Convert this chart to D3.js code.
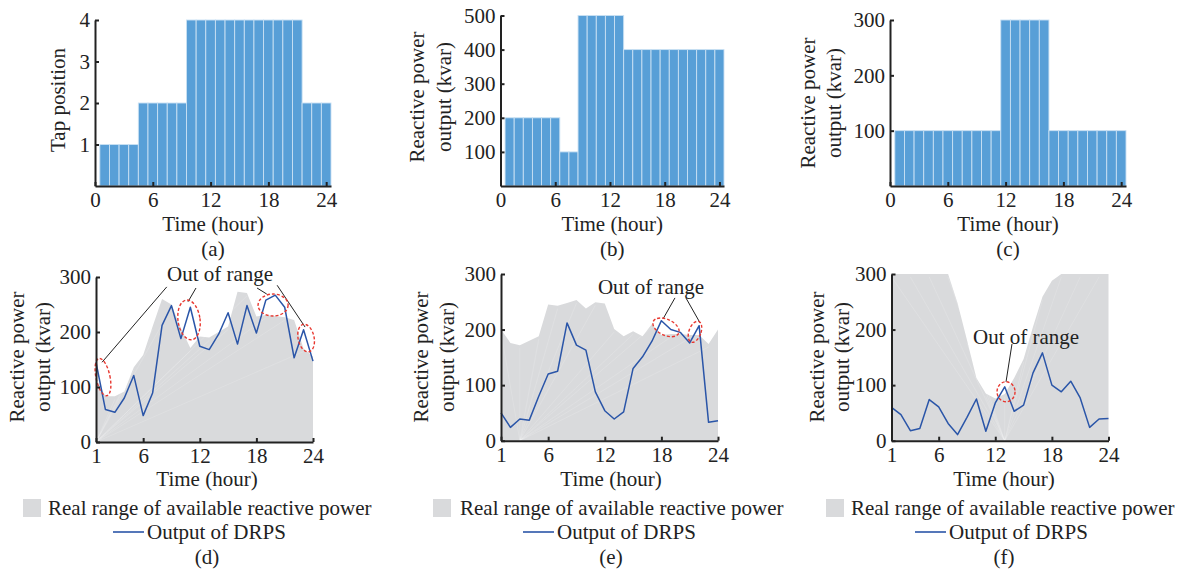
<!DOCTYPE html>
<html>
<head>
<meta charset="utf-8">
<script src="https://cdn.jsdelivr.net/npm/d3@7"></script>
<style>
  html, body { margin: 0; padding: 0; background: #fff; }
  svg { display: block; }
  text { font-family: "Liberation Serif", "Times New Roman", serif; fill: #222; }
</style>
</head>
<body>
<svg id="chart" width="1190" height="569"></svg>
<script>
// ---------------- DATA ----------------
const hours = [1,2,3,4,5,6,7,8,9,10,11,12,13,14,15,16,17,18,19,20,21,22,23,24];
const tapPosition = [1,1,1,1,2,2,2,2,2,4,4,4,4,4,4,4,4,4,4,4,4,2,2,2];
const reactiveB = [200,200,200,200,200,200,100,100,500,500,500,500,500,400,400,400,400,400,400,400,400,400,400,400];
const reactiveC = [100,100,100,100,100,100,100,100,100,100,100,300,300,300,300,300,100,100,100,100,100,100,100,100];
const rangeD  = [115,83,83,92,136,158,210,260,250,207,171,192,190,200,210,273,271,228,231,229,227,222,170,155];
const outputD = [145,59,54,80,121,48,89,212,248,188,245,174,168,196,235,178,248,198,258,267,245,153,204,147];
const rangeE  = [200,176,172,180,188,245,243,248,253,238,249,247,201,188,197,188,210,190,192,192,190,190,174,200];
const outputE = [50,24,39,37,80,120,125,212,172,163,88,54,39,52,130,151,179,216,200,195,176,207,33,36];
const rangeF  = [300,300,300,300,300,300,300,248,181,113,85,76,84,113,147,205,259,288,300,300,300,300,300,300];
const outputF = [60,47,18,22,74,61,31,11,42,75,17,68,97,53,64,122,158,100,88,107,77,24,39,40];
const topXTicks = [0,6,12,18,24];
const botXTicks = [1,6,12,18,24];
const ticksA = [1,2,3,4];
const ticksB = [100,200,300,400,500];
const ticksC = [100,200,300];
const ticksBottom = [0,100,200,300];
const legendRange = "Real range of available reactive power";
const legendLine = "Output of DRPS";
const outLabel = "Out of range";

// ---------------- DRAWING ----------------
const svg = d3.select("#chart");
const FS = 21;
const BAR = "#589fd7", GRAY = "#d9dadc", BLUE = "#2a55a8", RED = "#e8362e", INK = "#222";
const fmt = d3.format("d");

function styleAxis(g) {
  g.select(".domain").attr("stroke", INK).attr("stroke-width", 2);
  g.selectAll(".tick line").attr("stroke", INK).attr("stroke-width", 2);
  g.selectAll(".tick text").style("font-size", FS + "px").attr("fill", INK)
    .style("font-family", '"Liberation Serif","Times New Roman",serif');
}

function axes(x, y, xt, yt) {
  const gx = svg.append("g").attr("transform", `translate(0,${y.range()[0]})`)
    .call(d3.axisBottom(x).tickValues(xt).tickFormat(fmt).tickSizeInner(-4).tickSizeOuter(0).tickPadding(6));
  styleAxis(gx);
  const gy = svg.append("g").attr("transform", `translate(${x.range()[0]},0)`)
    .call(d3.axisLeft(y).tickValues(yt).tickFormat(fmt).tickSizeInner(-4).tickSizeOuter(0).tickPadding(5));
  styleAxis(gy);
}

function yLabel(lines, cx, cy) {
  lines.forEach((t, i) => {
    svg.append("text").attr("transform", `translate(${cx[i]},${cy}) rotate(-90)`)
      .attr("text-anchor", "middle").attr("dominant-baseline", "central")
      .style("font-size", FS + "px").text(t);
  });
}
function ctext(t, x, y) {
  svg.append("text").attr("x", x).attr("y", y).attr("text-anchor", "middle")
    .attr("dominant-baseline", "central").style("font-size", FS + "px").text(t);
}

function barPanel(vals, yMax, yt, xr, yr, label, ylines, ylx, yly) {
  const x = d3.scaleLinear().domain([0, 24.5]).range(xr);
  const y = d3.scaleLinear().domain([0, yMax]).range(yr);
  svg.append("g").selectAll("rect").data(hours).join("rect")
    .attr("x", h => x(h - 0.5)).attr("width", h => x(h + 0.5) - x(h - 0.5))
    .attr("y", (h, i) => y(vals[i])).attr("height", (h, i) => y(0) - y(vals[i]))
    .attr("fill", BAR).attr("stroke", "#c9e0f3").attr("stroke-width", 0.9);
  axes(x, y, topXTicks, yt);
  const cx = (xr[0] + xr[1]) / 2;
  ctext("Time (hour)", cx, 224);
  ctext(label, cx, 249);
  yLabel(ylines, ylx, yly);
}

barPanel(tapPosition, 4, ticksA, [95, 331], [186, 20], "(a)", ["Tap position"], [58], 100);
barPanel(reactiveB, 500, ticksB, [500.5, 724], [186, 15.5], "(b)", ["Reactive power", "output (kvar)"], [417, 444], 97);
barPanel(reactiveC, 300, ticksC, [890, 1126], [186, 20], "(c)", ["Reactive power", "output (kvar)"], [808, 834], 103);

function linePanel(range, out, xr, yr, o) {
  const x = d3.scaleLinear().domain([1, 24]).range(xr);
  const y = d3.scaleLinear().domain([0, 300]).range(yr);
  const area = d3.area().x((h) => x(h)).y0(y(0)).y1((h, i) => y(Math.min(300, range[i])));
  svg.append("path").datum(hours).attr("d", area).attr("fill", GRAY);
  // faint rendering streaks like the original fill
  const g = svg.append("g").attr("stroke", "#fff").attr("stroke-opacity", 0.3).attr("stroke-width", 0.5);
  hours.forEach((h, i) => {
    if (i % 2 === 0) g.append("line").attr("x1", x(o.fan)).attr("y1", y(0))
      .attr("x2", x(h)).attr("y2", y(Math.min(300, range[i])) + 3);
  });
  const line = d3.line().x(h => x(h)).y((h, i) => y(out[i]));
  svg.append("path").datum(hours).attr("d", line).attr("fill", "none")
    .attr("stroke", BLUE).attr("stroke-width", 1.5).attr("stroke-linejoin", "round");
  // annotations
  o.lines.forEach(l => svg.append("line").attr("x1", x(l[0])).attr("y1", y(l[1]))
    .attr("x2", x(l[2])).attr("y2", y(l[3])).attr("stroke", INK).attr("stroke-width", 1));
  o.ell.forEach(e => svg.append("ellipse")
    .attr("transform", `translate(${x(e[0])},${y(e[1])}) rotate(${e[4]})`)
    .attr("rx", e[2]).attr("ry", e[3]).attr("fill", "none").attr("stroke", RED)
    .attr("stroke-width", 1.4).attr("stroke-dasharray", "3,2"));
  svg.append("text").attr("x", x(o.txt[0])).attr("y", y(o.txt[1]))
    .attr("text-anchor", "middle").attr("dominant-baseline", "central")
    .style("font-size", FS + "px").text(outLabel);
  axes(x, y, botXTicks, ticksBottom);
  yLabel(["Reactive power", "output (kvar)"], o.ylx, 357);
  ctext("Time (hour)", o.tx, 479);
  // legend
  svg.append("rect").attr("x", o.lg[0]).attr("y", 499).attr("width", 18).attr("height", 18).attr("fill", GRAY);
  svg.append("text").attr("x", o.lg[1]).attr("y", 508).attr("dominant-baseline", "central")
    .style("font-size", FS + "px").text(legendRange);
  svg.append("line").attr("x1", o.lg[2]).attr("x2", o.lg[2] + 31).attr("y1", 532).attr("y2", 532)
    .attr("stroke", BLUE).attr("stroke-width", 1.6);
  svg.append("text").attr("x", o.lg[2] + 34).attr("y", 532).attr("dominant-baseline", "central")
    .style("font-size", FS + "px").text(legendLine);
  ctext(o.label, o.tx, 556.5);
}

linePanel(rangeD, outputD, [96, 313], [442, 277], {
  fan: 1,
  txt: [14.15, 305],
  lines: [[8.5, 282, 1.64, 145], [11.6, 280, 10.75, 255], [18.07, 280, 19.1, 269], [20.2, 285, 23.16, 209]],
  ell: [[1.74, 118, 7, 19, -12], [10.86, 222, 11, 20, -8], [19.77, 249, 15, 11, 0], [23.27, 189, 8, 14, -12]],
  ylx: [17, 43], tx: 207, label: "(d)", lg: [23, 48, 113]
});
linePanel(rangeE, outputE, [501, 718], [440.7, 274], {
  fan: 3,
  txt: [16.9, 277],
  lines: [[19.44, 257, 18.17, 219], [20.6, 257, 22.1, 212]],
  ell: [[18.49, 204, 14, 8, 25], [21.56, 196, 6, 11, 20]],
  ylx: [421, 447], tx: 611, label: "(e)", lg: [433, 460, 523]
});
linePanel(rangeF, outputF, [891.5, 1108.5], [440.7, 274], {
  fan: 13,
  txt: [15.26, 187],
  lines: [[13.77, 174, 13.14, 106]],
  ell: [[13.14, 88, 9, 10, 0]],
  ylx: [817, 842], tx: 1004, label: "(f)", lg: [826, 851, 915]
});
</script>
</body>
</html>
